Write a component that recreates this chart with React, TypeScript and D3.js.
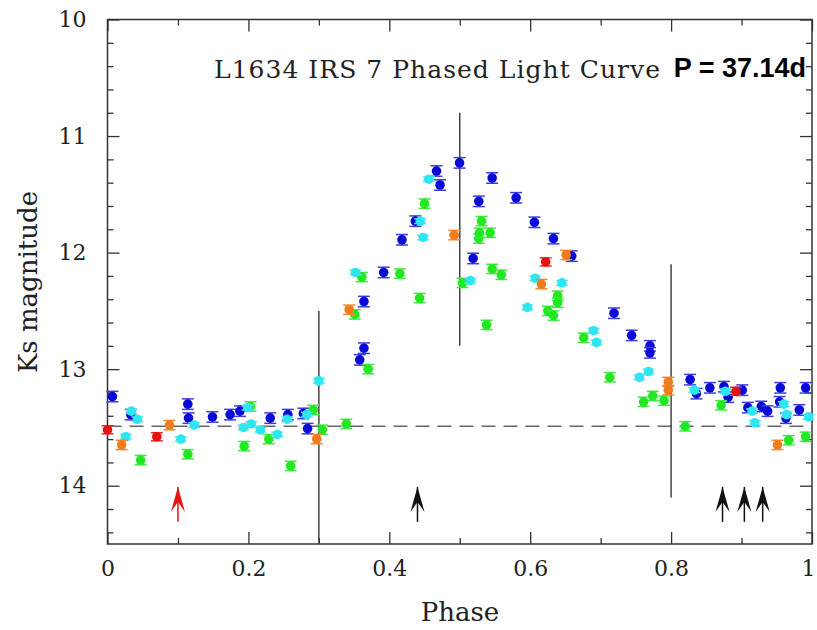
import React, { useEffect, useRef } from "react";
import * as d3 from "d3";

const width = 817;
const height = 630;
const margin = { top: 19.5, right: 5, bottom: 86, left: 107.5 };

// [phase, Ks magnitude]
const bluePts: [number, number][] = [
  [0.007, 13.235], [0.033, 13.39], [0.114, 13.3], [0.115, 13.42], [0.149, 13.41],
  [0.174, 13.39], [0.188, 13.36], [0.231, 13.42], [0.256, 13.39], [0.278, 13.38],
  [0.284, 13.51], [0.358, 12.92], [0.364, 12.82], [0.364, 12.42], [0.392, 12.17],
  [0.418, 11.89], [0.437, 11.73], [0.467, 11.3], [0.472, 11.42], [0.4997, 11.23],
  [0.519, 12.05], [0.527, 11.56], [0.546, 11.36], [0.58, 11.53], [0.606, 11.74],
  [0.633, 11.88], [0.659, 12.03], [0.719, 12.52], [0.744, 12.71], [0.77, 12.8],
  [0.77, 12.86], [0.827, 13.09], [0.836, 13.21], [0.855, 13.16], [0.875, 13.15],
  [0.881, 13.24], [0.901, 13.18], [0.909, 13.33], [0.928, 13.32], [0.937, 13.36],
  [0.955, 13.16], [0.954, 13.28], [0.963, 13.42], [0.982, 13.35], [0.991, 13.16],
];
const greenPts: [number, number][] = [
  [0.047, 13.78], [0.114, 13.73], [0.194, 13.66], [0.203, 13.32], [0.229, 13.6],
  [0.26, 13.83], [0.292, 13.35], [0.305, 13.52], [0.339, 13.47], [0.351, 12.53],
  [0.361, 12.21], [0.37, 13.0], [0.415, 12.18], [0.443, 12.39], [0.45, 11.58],
  [0.504, 12.26], [0.527, 11.88], [0.528, 11.83], [0.531, 11.73], [0.538, 12.62],
  [0.543, 11.83], [0.546, 12.14], [0.559, 12.19], [0.625, 12.5], [0.633, 12.54],
  [0.639, 12.37], [0.639, 12.43], [0.676, 12.73], [0.713, 13.07], [0.761, 13.28],
  [0.774, 13.23], [0.79, 13.27], [0.82, 13.49], [0.871, 13.31], [0.967, 13.61],
  [0.991, 13.58],
];
const cyanPts: [number, number][] = [
  [0.026, 13.58], [0.034, 13.36], [0.0425, 13.43], [0.104, 13.6], [0.123, 13.48],
  [0.193, 13.5], [0.199, 13.33], [0.204, 13.47], [0.217, 13.52], [0.241, 13.56],
  [0.255, 13.43], [0.283, 13.39], [0.3, 13.1], [0.352, 12.17], [0.444, 11.73],
  [0.448, 11.87], [0.456, 11.37], [0.515, 12.24], [0.596, 12.47], [0.607, 12.22],
  [0.645, 12.26], [0.69, 12.67], [0.694, 12.77], [0.755, 13.07], [0.768, 13.02],
  [0.833, 13.18], [0.877, 13.19], [0.915, 13.36], [0.919, 13.46], [0.96, 13.3],
  [0.964, 13.39], [0.995, 13.41],
];
const orangePts: [number, number][] = [
  [0.02, 13.65], [0.088, 13.48], [0.297, 13.6], [0.343, 12.49], [0.492, 11.85],
  [0.616, 12.27], [0.651, 12.02], [0.796, 13.11], [0.796, 13.18], [0.951, 13.65],
];
const redPts: [number, number][] = [
  [0.0, 13.52], [0.07, 13.58], [0.622, 12.08], [0.892, 13.19],
];

const meanMag = 13.49;
// vertical markers: phase, top mag, bottom mag
const markers: [number, number, number][] = [
  [0.3, 12.5, 14.5],
  [0.5, 10.8, 12.8],
  [0.8, 12.1, 14.1],
];
const blackArrows = [0.44, 0.873, 0.904, 0.93];
const redArrows = [0.1];
const arrowTop = 14.01;
const arrowBottom = 14.31;

const xTicks = [0, 0.2, 0.4, 0.6, 0.8, 1];
const xTickLabels = ["0", "0.2", "0.4", "0.6", "0.8", "1"];
const yTicks = [10, 11, 12, 13, 14];
const yTickLabels = ["10", "11", "12", "13", "14"];

const series = [
  { data: bluePts, fill: "#0a0ad6", bar: "#3c3ce0", err: 0.045 },
  { data: greenPts, fill: "#22e822", bar: "#44e844", err: 0.04 },
  { data: cyanPts, fill: "#2ee6f2", bar: "#5ee8f2", err: 0.02 },
  { data: orangePts, fill: "#f07c1c", bar: "#f08a30", err: 0.04 },
  { data: redPts, fill: "#e41212", bar: "#e43030", err: 0.035 },
];

const serif = "'DejaVu Serif', serif";

export default function App() {
  const axesRef = useRef<SVGGElement>(null);

  const x = d3.scaleLinear().domain([0, 1]).range([margin.left, width - margin.right]);
  const y = d3.scaleLinear().domain([10, 14.5]).range([margin.top, height - margin.bottom]);

  useEffect(() => {
    const g = d3.select(axesRef.current);
    g.selectAll("*").remove();
    const [x0, x1] = x.range();
    const [y0, y1] = y.range();
    const xMinor = d3.range(0.1, 1, 0.2);
    const yMinor = d3.range(10, 14.5, 0.2).filter((v) => Math.abs(v - Math.round(v)) > 0.01);

    const style = (sel: any) => {
      sel.select(".domain").remove();
      sel.selectAll("line").attr("stroke", "#333").attr("stroke-width", 1.3);
      sel.selectAll("text")
        .attr("font-family", serif)
        .attr("font-size", 22)
        .attr("fill", "#222");
    };
    const none = () => "";

    const bottom = g.append("g").attr("transform", `translate(0,${y1})`)
      .call(d3.axisBottom(x).tickValues(xTicks).tickFormat((d, i) => xTickLabels[i]).tickSize(-12).tickPadding(16))
      .call(style);
    // keep the last label inside the page
    bottom.selectAll("text").filter((d: any) => d === 1).attr("dx", -4);

    g.append("g").attr("transform", `translate(0,${y1})`)
      .call(d3.axisBottom(x).tickValues(xMinor).tickFormat(none).tickSize(-6))
      .call(style);
    g.append("g").attr("transform", `translate(0,${y0})`)
      .call(d3.axisTop(x).tickValues(xTicks).tickFormat(none).tickSize(-12))
      .call(style);
    g.append("g").attr("transform", `translate(0,${y0})`)
      .call(d3.axisTop(x).tickValues(xMinor).tickFormat(none).tickSize(-6))
      .call(style);
    g.append("g").attr("transform", `translate(${x0},0)`)
      .call(d3.axisLeft(y).tickValues(yTicks).tickFormat((d, i) => yTickLabels[i]).tickSize(-12).tickPadding(21))
      .call(style);
    g.append("g").attr("transform", `translate(${x0},0)`)
      .call(d3.axisLeft(y).tickValues(yMinor).tickFormat(none).tickSize(-6))
      .call(style);
    g.append("g").attr("transform", `translate(${x1},0)`)
      .call(d3.axisRight(y).tickValues(yTicks).tickFormat(none).tickSize(-12))
      .call(style);
    g.append("g").attr("transform", `translate(${x1},0)`)
      .call(d3.axisRight(y).tickValues(yMinor).tickFormat(none).tickSize(-6))
      .call(style);
  }, []);

  const arrowPath = (p: number) => {
    const cx = x(p);
    const t = y(arrowTop);
    return `M${cx},${t} L${cx + 7},${t + 25} L${cx},${t + 15} L${cx - 7},${t + 25} Z`;
  };

  return (
    <svg width={width} height={height} style={{ position: "absolute", left: 0, top: 0, background: "#fff" }}>
      <rect
        x={margin.left}
        y={margin.top}
        width={width - margin.left - margin.right}
        height={height - margin.top - margin.bottom}
        fill="none"
        stroke="#333"
        strokeWidth={1.5}
      />
      <g ref={axesRef} />

      <line
        x1={x(0)}
        x2={x(1)}
        y1={y(meanMag)}
        y2={y(meanMag)}
        stroke="#666"
        strokeWidth={1.5}
        strokeDasharray="14,8"
      />
      {markers.map(([p, a, b], i) => (
        <line key={i} x1={x(p)} x2={x(p)} y1={y(a)} y2={y(b)} stroke="#444" strokeWidth={1.5} />
      ))}

      {series.map((s, si) => (
        <g key={si}>
          {s.data.map(([p, m], i) => {
            const cx = x(p);
            const ya = y(m - s.err);
            const yb = y(m + s.err);
            return (
              <g key={i}>
                <line x1={cx} x2={cx} y1={ya} y2={yb} stroke={s.bar} strokeWidth={1.5} />
                <line x1={cx - 6} x2={cx + 6} y1={ya} y2={ya} stroke={s.bar} strokeWidth={1.5} />
                <line x1={cx - 6} x2={cx + 6} y1={yb} y2={yb} stroke={s.bar} strokeWidth={1.5} />
                <circle cx={cx} cy={y(m)} r={4.8} fill={s.fill} />
              </g>
            );
          })}
        </g>
      ))}

      {blackArrows.map((p, i) => (
        <g key={i}>
          <line x1={x(p)} x2={x(p)} y1={y(arrowTop)} y2={y(arrowBottom)} stroke="#111" strokeWidth={1.5} />
          <path d={arrowPath(p)} fill="#111" />
        </g>
      ))}
      {redArrows.map((p, i) => (
        <g key={i}>
          <line x1={x(p)} x2={x(p)} y1={y(arrowTop)} y2={y(arrowBottom)} stroke="#e41212" strokeWidth={1.5} />
          <path d={arrowPath(p)} fill="#e41212" />
        </g>
      ))}

      <text x={660} y={78} textAnchor="end" fontFamily={serif} fontSize={25} fill="#222" textLength={446}>
        L1634 IRS 7 Phased Light Curve
      </text>
      <text
        x={806}
        y={77}
        textAnchor="end"
        fontFamily="'Liberation Sans', Arial, sans-serif"
        fontWeight="bold"
        fontSize={27}
        fill="#000"
      >
        P = 37.14d
      </text>

      <text x={460} y={621} textAnchor="middle" fontFamily={serif} fontSize={26} fill="#222">
        Phase
      </text>
      <text
        transform={`translate(37,282) rotate(-90)`}
        textAnchor="middle"
        fontFamily={serif}
        fontSize={26}
        fill="#222"
      >
        Ks magnitude
      </text>
    </svg>
  );
}
